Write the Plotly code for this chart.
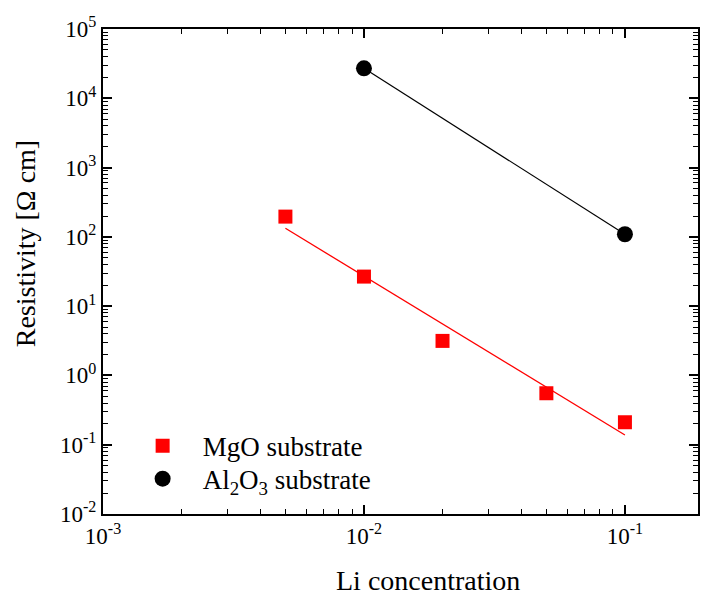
import plotly.graph_objects as go

# Data
mgo_x = [0.005, 0.01, 0.02, 0.05, 0.1]
mgo_y = [196, 26.7, 3.15, 0.553, 0.211]
fit_x = [0.005, 0.1]
fit_y = [133, 0.138]
al_x = [0.01, 0.1]
al_y = [27100, 109]

x_tickvals = [1e-3, 1e-2, 1e-1]
x_ticktext = ["10<sup>-3</sup>", "10<sup>-2</sup>", "10<sup>-1</sup>"]
y_tickvals = [1e-2, 1e-1, 1e0, 1e1, 1e2, 1e3, 1e4, 1e5]
y_ticktext = ["10<sup>-2</sup>", "10<sup>-1</sup>", "10<sup>0</sup>", "10<sup>1</sup>",
              "10<sup>2</sup>", "10<sup>3</sup>", "10<sup>4</sup>", "10<sup>5</sup>"]

FONT = "'Liberation Serif', Tinos, serif"

fig = go.Figure()
fig.add_trace(go.Scatter(x=fit_x, y=fit_y, mode="lines",
                         line=dict(color="#ff0000", width=1.3),
                         showlegend=False, hoverinfo="skip"))
fig.add_trace(go.Scatter(x=al_x, y=al_y, mode="lines",
                         line=dict(color="black", width=1.2),
                         showlegend=False, hoverinfo="skip"))
fig.add_trace(go.Scatter(x=mgo_x, y=mgo_y, mode="markers",
                         marker=dict(symbol="square", size=14, color="#ff0000"),
                         name="MgO substrate", legend="legend"))
fig.add_trace(go.Scatter(x=al_x, y=al_y, mode="markers",
                         marker=dict(symbol="circle", size=16, color="black"),
                         name="Al<sub>2</sub>O<sub>3</sub> substrate", legend="legend2"))

axis_common = dict(
    type="log", showgrid=False, zeroline=False,
    showline=True, linecolor="black", linewidth=2, mirror="ticks",
    ticks="inside", ticklen=9, tickwidth=1.5, tickcolor="black",
    tickmode="array",
    tickfont=dict(family=FONT, size=23, color="black"),
    minor=dict(ticks="inside", ticklen=5, tickwidth=1.2, tickcolor="black", showgrid=False,
               tickmode="array",
               tickvals=[m * 10 ** e for e in range(-3, 5) for m in range(2, 10)]),
)

fig.update_xaxes(range=[-3, -0.72], tickvals=x_tickvals, ticktext=x_ticktext, **axis_common)
fig.update_yaxes(range=[-2, 5], tickvals=y_tickvals, ticktext=y_ticktext, **axis_common)

legend_common = dict(xanchor="left", yanchor="middle", bgcolor="rgba(0,0,0,0)",
                     font=dict(family=FONT, size=27, color="black"),
                     itemsizing="trace", itemwidth=70)

fig.update_layout(
    width=701, height=601,
    margin=dict(l=103, r=1, t=29, b=87),
    paper_bgcolor="white", plot_bgcolor="white",
    font=dict(family=FONT, color="black"),
    legend=dict(x=0.033, y=0.140, **legend_common),
    legend2=dict(x=0.033, y=0.072, **legend_common),
    annotations=[
        dict(text="Li concentration", xref="paper", yref="paper",
             x=(429 - 103) / 597, y=-(580 - 514) / 485, xanchor="center", yanchor="middle",
             showarrow=False, font=dict(family=FONT, size=28, color="black")),
        dict(text="Resistivity [Ω cm]", xref="paper", yref="paper",
             x=(25 - 103) / 597, y=(514 - 244) / 485, xanchor="center", yanchor="middle",
             textangle=-90, showarrow=False, font=dict(family=FONT, size=28, color="black")),
    ],
)

fig.write_html("out.html")
